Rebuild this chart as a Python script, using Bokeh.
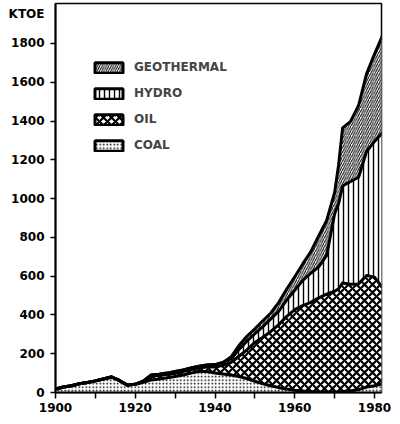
from bokeh.plotting import figure
from bokeh.models import ColumnDataSource, Range1d, FixedTicker, Legend, LegendItem
from bokeh.embed import file_html
from bokeh.resources import INLINE

years = [1900, 1902, 1904, 1906, 1908, 1910, 1912, 1914, 1916, 1918, 1920,
         1922, 1924, 1926, 1928, 1930, 1932, 1934, 1936, 1938, 1940,
         1942, 1944, 1946, 1948, 1950, 1952, 1954, 1956, 1958, 1960,
         1962, 1964, 1966, 1968, 1970, 1971, 1972, 1974, 1976, 1978, 1980, 1982]
coal = [18, 28, 35, 45, 52, 60, 70, 80, 62, 38, 42,
        52, 65, 70, 76, 83, 90, 100, 110, 108, 100,
        95, 90, 82, 72, 58, 45, 35, 25, 18, 12,
        8, 5, 3, 2, 2, 3, 5, 8, 15, 28, 35, 45]
oil = [0, 0, 0, 0, 0, 0, 0, 0, 0, 0, 0,
       6, 20, 18, 18, 18, 18, 18, 18, 24, 32,
       45, 65, 105, 148, 200, 240, 280, 325, 375, 415,
       440, 460, 485, 505, 520, 532, 560, 550, 545, 575, 560, 495]
hydro = [0, 0, 0, 0, 0, 0, 0, 0, 0, 0, 0,
         0, 5, 6, 6, 7, 8, 8, 8, 10, 12,
         15, 18, 35, 45, 45, 55, 65, 70, 85, 100,
         130, 150, 160, 200, 400, 440, 500, 530, 550, 640, 700, 800]
geothermal = [0, 0, 0, 0, 0, 0, 0, 0, 0, 0, 0,
              0, 0, 0, 0, 0, 0, 0, 0, 0, 0,
              0, 10, 20, 25, 25, 30, 30, 45, 55, 70,
              85, 110, 160, 180, 110, 200, 300, 310, 370, 400, 450, 500]

x_ticks = [1900, 1920, 1940, 1960, 1980]
x_minor = [1910, 1930, 1950, 1970]
y_ticks = [0, 200, 400, 600, 800, 1000, 1200, 1400, 1600, 1800]
unit_label = "KTOE"
unit_label_pos = 1952

series = ["coal", "oil", "hydro", "geothermal"]
labels = ["COAL", "OIL", "HYDRO", "GEOTHERMAL"]
patterns = ["dot", "diagonal_cross", "vertical_line", "right_diagonal_line"]
scales = [3.5, 8, 5, 4.5]
weights = [1.0, 2.2, 1.4, 1.0]

src = ColumnDataSource(dict(year=years, coal=coal, oil=oil, hydro=hydro, geothermal=geothermal))

FONT = "DejaVu Sans"

p = figure(width=400, height=424, output_backend="svg", toolbar_location=None,
           x_range=Range1d(1900, 1981.75), y_range=Range1d(0, 2006),
           min_border_left=55, min_border_right=19, min_border_top=3, min_border_bottom=32)
p.grid.visible = False
p.outline_line_color = "black"
p.outline_line_width = 1.5
p.background_fill_color = "white"
p.border_fill_color = "white"

p.varea_stack(stackers=series, x="year", source=src, fill_color="white",
              hatch_pattern=patterns, hatch_scale=scales, hatch_weight=weights,
              hatch_color="black")
p.vline_stack(stackers=series, x="year", source=src, line_color="black", line_width=3,
              line_join="round")

nan = float("nan")
empty = ColumnDataSource(dict(l=[nan], r=[nan], b=[nan], t=[nan]))
items = []
for i in [3, 2, 1, 0]:
    r = p.quad(left="l", right="r", bottom="b", top="t", source=empty,
               fill_color="white", line_color="black", line_width=3,
               hatch_pattern=patterns[i], hatch_scale=scales[i], hatch_weight=weights[i],
               hatch_color="black")
    items.append(LegendItem(label=labels[i], renderers=[r]))

legend = Legend(items=items, location=(36, 240), padding=0, margin=0, spacing=12,
                glyph_width=35, glyph_height=13, label_height=13, label_standoff=8,
                label_text_font=FONT, label_text_font_style="bold",
                label_text_font_size="12px", label_text_baseline="middle",
                border_line_color=None, background_fill_alpha=0)
p.add_layout(legend)

for ax in [p.xaxis[0], p.yaxis[0]]:
    ax.axis_line_width = 2
    ax.axis_line_color = "black"
    ax.major_tick_in = 0
    ax.major_tick_line_width = 1.5
    ax.minor_tick_in = 0
    ax.minor_tick_line_width = 1.5
    ax.major_label_text_font = FONT
    ax.major_label_text_font_style = "bold"
    ax.major_label_text_font_size = "12px"
    ax.major_label_text_color = "black"

p.xaxis.ticker = FixedTicker(ticks=x_ticks, minor_ticks=x_minor)
p.xaxis.major_tick_out = 6
p.xaxis.minor_tick_out = 6
p.xaxis.major_label_standoff = 4

# tick marks drawn as minor ticks; majors carry labels (incl. the unit label)
p.yaxis.ticker = FixedTicker(ticks=y_ticks + [unit_label_pos], minor_ticks=y_ticks)
p.yaxis.major_tick_out = 0
p.yaxis.major_tick_line_color = None
p.yaxis.minor_tick_out = 5
p.yaxis.major_label_standoff = 6
p.yaxis.major_label_overrides = {unit_label_pos: unit_label}

open("out.html", "w").write(file_html(p, INLINE))
